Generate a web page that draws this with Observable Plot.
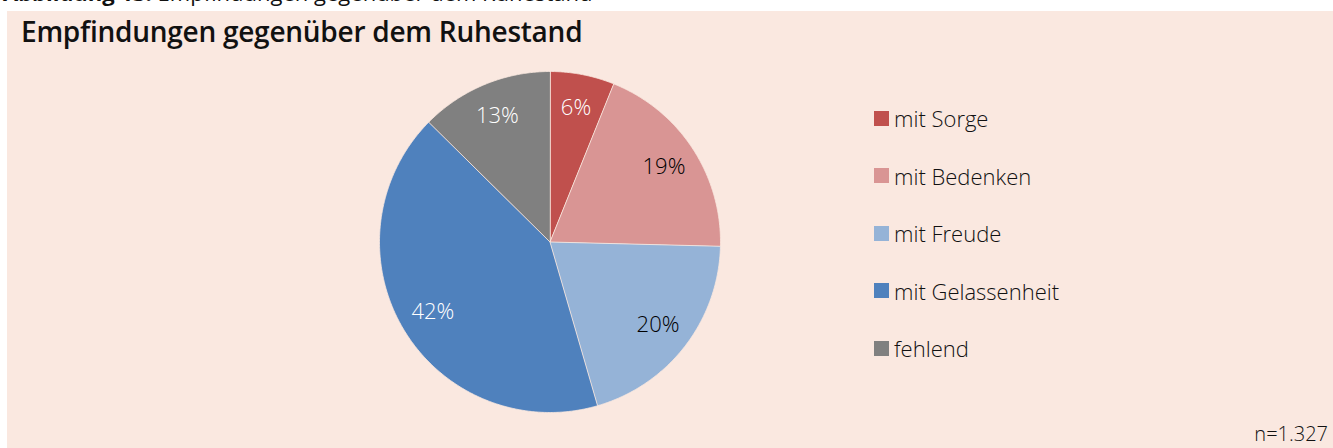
<!DOCTYPE html>
<html>
<head>
<meta charset="utf-8">
<script src="https://cdn.jsdelivr.net/npm/d3@7"></script>
<script src="https://cdn.jsdelivr.net/npm/@observablehq/plot@0.6"></script>
<style>
  html, body { margin: 0; padding: 0; background: #ffffff; width: 1333px; height: 448px; overflow: hidden; position: relative; font-family: "Open Sans", sans-serif; }
  #panel { position: absolute; left: 7px; top: 11px; width: 1326px; height: 437px; background: #fae8e0; }
  #cut { position: absolute; left: 3px; top: -19px; font-size: 22px; line-height: 22px; white-space: nowrap; color: #111; }
  #cut b { font-weight: 700; }
  #title { position: absolute; left: 21px; top: 12px; font-size: 28px; font-weight: 600; color: #111; white-space: nowrap; letter-spacing: -0.25px; }
  #pie { position: absolute; left: 369px; top: 61px; }
  #legend { position: absolute; left: 874px; top: 0; }
  .item { position: absolute; left: 0; display: flex; align-items: center; height: 30px; white-space: nowrap; font-size: 22px; font-weight: 300; color: #111; }
  .sw { width: 15px; height: 15px; margin-right: 5px; }
  #note { position: absolute; right: 5px; top: 420px; font-size: 20px; font-weight: 300; color: #111; line-height: 28px; }
</style>
</head>
<body>
<div id="panel"></div>
<div id="cut"><b>Abbildung 13:</b> Empfindungen gegenüber dem Ruhestand</div>
<div id="title">Empfindungen gegenüber dem Ruhestand</div>
<div id="pie"></div>
<div id="legend"></div>
<div id="note">n=1.327</div>
<script>
// ---- data ----
const categories = ["mit Sorge", "mit Bedenken", "mit Freude", "mit Gelassenheit", "fehlend"];
const shares = [6.1, 19.3, 20.1, 41.9, 12.6];
const labels = ["6%", "19%", "20%", "42%", "13%"];

// ---- styles ----
const colors = ["#c0504d", "#d99594", "#95b3d7", "#4f81bd", "#808080"];
const labelColors = ["#ffffff", "#000000", "#000000", "#ffffff", "#ffffff"];
const bg = "#fae8e0";

// build slice outlines in unit-circle data space (clockwise from 12 o'clock)
const arcs = d3.pie().sort(null).value(d => d)(shares);
const outline = [];
const labelPts = [];
arcs.forEach((a, i) => {
  const cat = categories[i];
  outline.push({cat, x: 0, y: 0});
  const n = Math.max(2, Math.ceil((a.endAngle - a.startAngle) / (Math.PI / 360)));
  for (let k = 0; k <= n; k++) {
    const t = a.startAngle + (a.endAngle - a.startAngle) * k / n;
    outline.push({cat, x: Math.sin(t), y: Math.cos(t)});
  }
  const m = (a.startAngle + a.endAngle) / 2;
  labelPts.push({cat, label: labels[i], color: labelColors[i], x: 0.8 * Math.sin(m), y: 0.8 * Math.cos(m)});
});

const size = 361;
const chart = Plot.plot({
  width: size,
  height: size,
  margin: 10,
  x: {domain: [-1, 1], axis: null},
  y: {domain: [-1, 1], axis: null},
  color: {domain: categories, range: colors},
  style: {background: "transparent", overflow: "visible"},
  marks: [
    Plot.line(outline, {x: "x", y: "y", z: "cat", fill: "cat", stroke: bg, strokeWidth: 0.8, curve: "linear-closed"}),
    Plot.text(labelPts, {x: "x", y: "y", text: "label", fill: d => d.color, fontSize: 22, fontWeight: 300, fontFamily: "Open Sans"})
  ]
});
document.getElementById("pie").appendChild(chart);

// legend
const leg = document.getElementById("legend");
categories.forEach((c, i) => {
  const it = document.createElement("div");
  it.className = "item";
  it.style.top = (118 + i * 57.6 - 15) + "px";
  const sw = document.createElement("div");
  sw.className = "sw";
  sw.style.background = colors[i];
  it.appendChild(sw);
  const tx = document.createElement("span");
  tx.textContent = c;
  it.appendChild(tx);
  leg.appendChild(it);
});
</script>
</body>
</html>
